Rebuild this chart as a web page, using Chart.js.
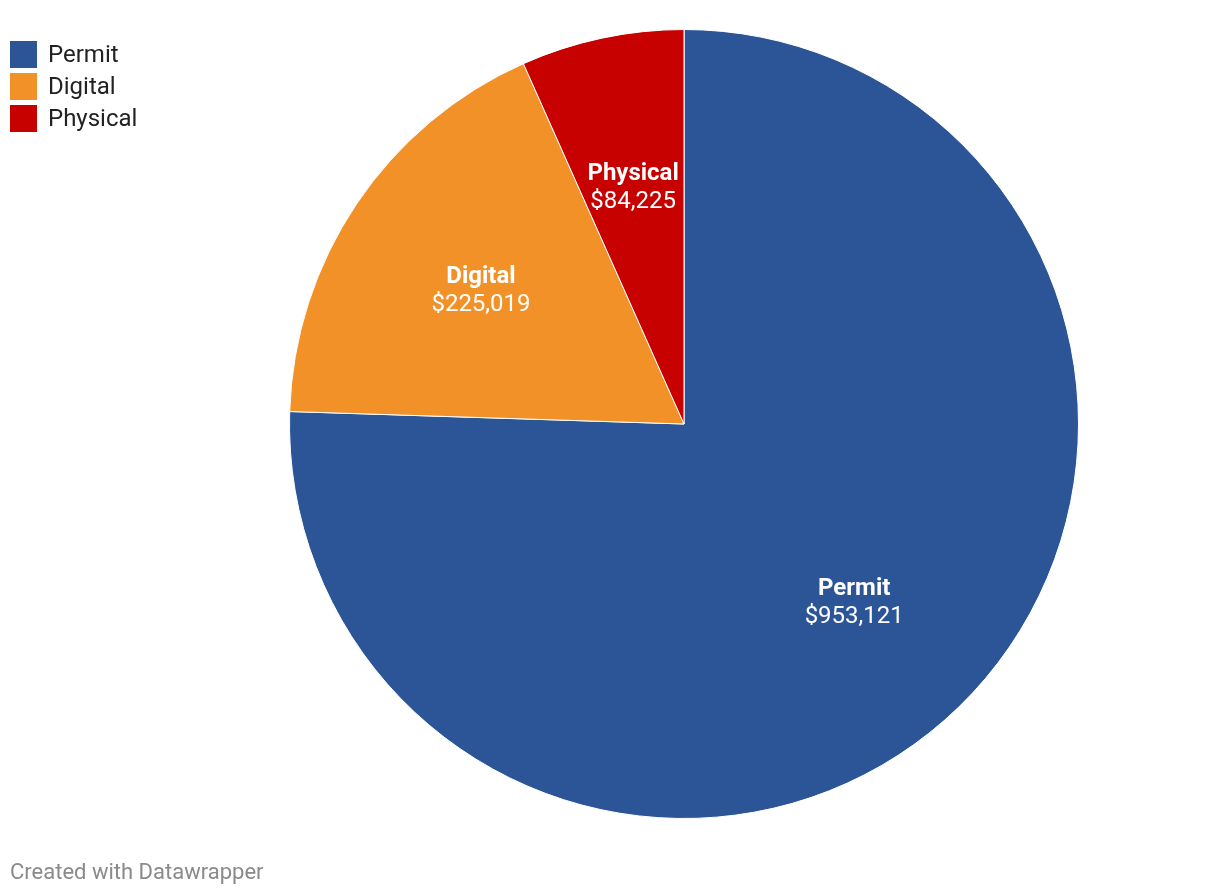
<!DOCTYPE html>
<html>
<head>
<meta charset="utf-8">
<script src="https://cdn.jsdelivr.net/npm/chart.js@4"></script>
<style>
  html, body { margin: 0; padding: 0; background: #fff; }
  body { width: 1220px; height: 896px; position: relative; font-family: Roboto, sans-serif; overflow: hidden; }
  #myChart { position: absolute; left: 0; top: 0; }
  #legend { position: absolute; left: 10px; top: 38px; }
  .item { height: 32px; display: flex; align-items: center; font-size: 24px; color: #222; }
  .sw { width: 27px; height: 27px; margin-right: 11px; }
  #footer { position: absolute; left: 10px; top: 859px; font-size: 22px; color: #8a8a8a; }
</style>
</head>
<body>
<canvas id="myChart" width="1220" height="896"></canvas>
<div id="legend"></div>
<div id="footer">Created with Datawrapper</div>
<script>
// data
var categories = ['Permit', 'Digital', 'Physical']
var amounts = [953121, 225019, 84225]
var colors = ['#2b5597', '#f29127', '#c70000']

// legend
var legend = document.getElementById('legend')
categories.forEach(function (c, i) {
    var row = document.createElement('div')
    row.className = 'item'
    row.innerHTML = '<span class="sw" style="background:' + colors[i] + '"></span>' + c
    legend.appendChild(row)
})

function money(v) {
    return '$' + v.toLocaleString('en-US')
}

// labels inside slices
const sliceLabels = {
    id: 'sliceLabels',
    afterDatasetsDraw(chart) {
        const ctx = chart.ctx
        const meta = chart.getDatasetMeta(0)
        meta.data.forEach(function (arc, i) {
            const mid = (arc.startAngle + arc.endAngle) / 2
            const r = arc.outerRadius * 0.62
            const x = arc.x + Math.cos(mid) * r
            const y = arc.y + Math.sin(mid) * r
            ctx.save()
            ctx.fillStyle = '#fff'
            ctx.textAlign = 'center'
            ctx.textBaseline = 'alphabetic'
            ctx.font = 'bold 24px Roboto'
            ctx.fillText(categories[i], x, y - 5)
            ctx.font = '24px Roboto'
            ctx.fillText(money(amounts[i]), x, y + 23)
            ctx.restore()
        })
    }
}

const ctx = document.getElementById('myChart').getContext('2d')
const myChart = new Chart(ctx, {
    type: 'pie',
    data: {
        labels: categories,
        datasets: [{
            data: amounts,
            backgroundColor: colors,
            borderColor: '#ffffff',
            borderWidth: 1
        }]
    },
    options: {
        responsive: false,
        animation: false,
        layout: { padding: { left: 289, right: 141, top: 29, bottom: 77 } },
        plugins: {
            legend: { display: false },
            tooltip: { enabled: false }
        }
    },
    plugins: [sliceLabels]
})
</script>
</body>
</html>
